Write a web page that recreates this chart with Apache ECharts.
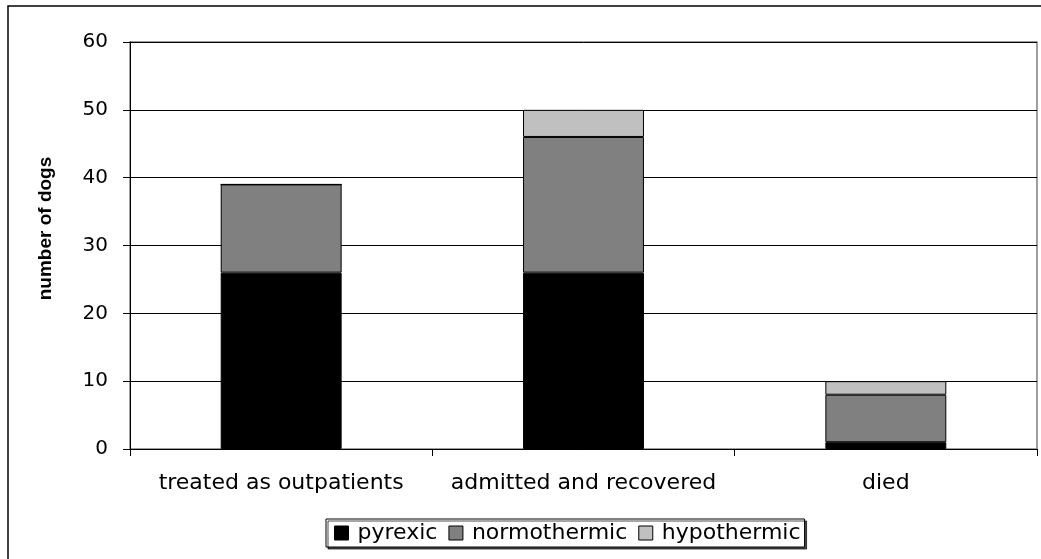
<!DOCTYPE html>
<html>
<head>
<meta charset="utf-8">
<script src="https://cdn.jsdelivr.net/npm/echarts@6/dist/echarts.min.js"></script>
<style>
html,body{margin:0;padding:0;background:#fff;}
#c{width:1041px;height:559px;}
</style>
</head>
<body>
<div id="c"></div>
<script>
var categories = ['treated as outpatients', 'admitted and recovered', 'died'];
var pyrexic = [26, 26, 1];
var normothermic = [13, 20, 7];
var hypothermic = [0, 4, 2];
var seriesNames = ['pyrexic', 'normothermic', 'hypothermic'];
var yTicks = [0, 10, 20, 30, 40, 50, 60];

var chart = echarts.init(document.getElementById('c'), null, {renderer: 'canvas'});
var font = '"DejaVu Sans", sans-serif';
var colors = ['#000000', '#808080', '#c0c0c0'];
function mk(name, data, color) {
  return {
    name: name, type: 'bar', stack: 'total', data: data,
    barWidth: '40%',
    itemStyle: {color: color, borderColor: '#000', borderWidth: 1},
    emphasis: {disabled: true}
  };
}
chart.setOption({
  animation: false,
  backgroundColor: '#fff',
  graphic: [{
    type: 'rect', shape: {x: 8, y: 6, width: 1045, height: 565},
    style: {fill: 'none', stroke: '#000', lineWidth: 1.5}, silent: true
  }, {
    type: 'rect', shape: {x: 130, y: 42, width: 907, height: 407},
    style: {fill: 'none', stroke: '#808080', lineWidth: 1.5}, silent: true, z: -1
  }],
  grid: {left: 130, top: 42, right: 4, bottom: 110, containLabel: false},
  legend: {
    data: seriesNames,
    left: 326, top: 519,
    padding: [3, 4, 3, 8],
    itemGap: 11, itemWidth: 14, itemHeight: 14,
    icon: 'rect',
    borderColor: '#000', borderWidth: 1,
    shadowColor: 'rgba(0,0,0,0.7)', shadowOffsetX: 2, shadowOffsetY: 2, shadowBlur: 0,
    backgroundColor: '#fff',
    textStyle: {fontFamily: font, fontSize: 22, color: '#000', padding: [0, 0, 0, 4], lineHeight: 22},
    itemStyle: {borderColor: '#000', borderWidth: 1}
  },
  xAxis: {
    type: 'category', data: categories,
    axisLine: {lineStyle: {color: '#000', width: 1}},
    axisTick: {show: true, length: 7, lineStyle: {color: '#000'}},
    axisLabel: {fontFamily: font, fontSize: 22, color: '#000', margin: 23, interval: 0},
    splitLine: {show: false}
  },
  yAxis: {
    type: 'value', min: 0, max: 60, interval: 10,
    name: 'number of dogs', nameLocation: 'middle', nameGap: 75,
    nameTextStyle: {fontFamily: 'Liberation Sans, Arial, sans-serif', fontSize: 19, fontWeight: 'bold', color: '#000', padding: [0, 0, 0, 34]},
    axisLine: {show: true, lineStyle: {color: '#000', width: 1}},
    axisTick: {show: true, length: 7, lineStyle: {color: '#000'}},
    axisLabel: {fontFamily: font, fontSize: 20, color: '#000', margin: 22,
      formatter: function (v) { return yTicks.indexOf(v) >= 0 ? String(v) : ''; }},
    splitLine: {show: true, lineStyle: {color: '#000', width: 1}}
  },
  series: [
    mk(seriesNames[0], pyrexic, colors[0]),
    mk(seriesNames[1], normothermic, colors[1]),
    mk(seriesNames[2], hypothermic, colors[2])
  ]
});
</script>
</body>
</html>
